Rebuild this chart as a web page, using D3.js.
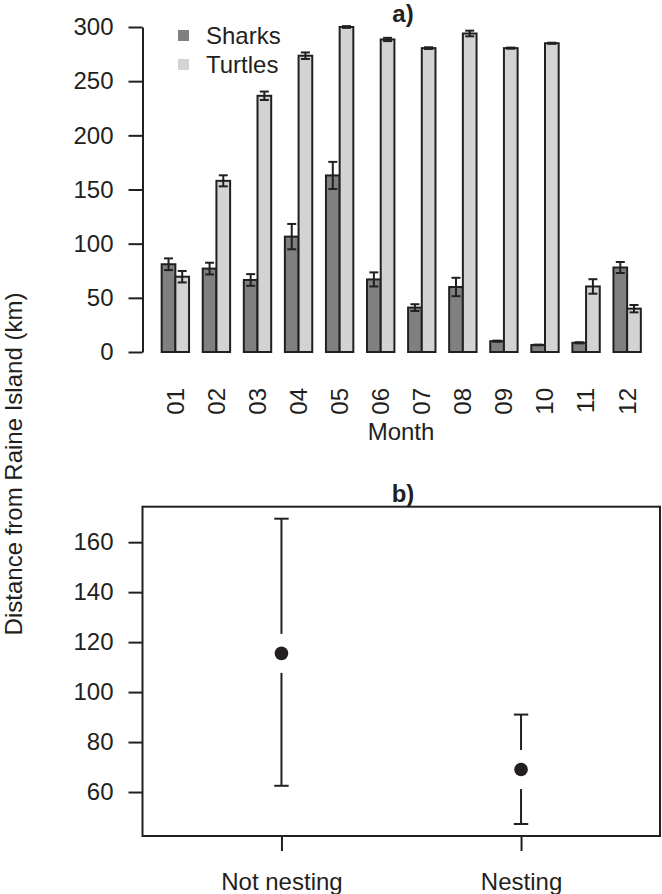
<!DOCTYPE html>
<html>
<head>
<meta charset="utf-8">
<script src="https://cdnjs.cloudflare.com/ajax/libs/d3/7.8.5/d3.min.js"></script>
<style>
body { margin: 0; background: #fff; }
text { font-family: "Liberation Sans", Arial, sans-serif; fill: #231f20; }
</style>
</head>
<body>
<script>
// data
var months = ["01","02","03","04","05","06","07","08","09","10","11","12"];
var sharks    = [81, 77, 66.5, 106.5, 163, 67, 41, 60, 10, 6.5, 8.5, 78];
var sharksSE  = [5.4, 5.4, 5.4, 11.7, 12.5, 6.5, 3.1, 8.5, 0.5, 0.3, 0.5, 5.1];
var turtles   = [69.5, 158, 236.5, 273.5, 300, 288.5, 280.5, 294, 280.5, 285, 60.5, 40];
var turtlesSE = [5.3, 5.1, 3.9, 3, 0.8, 1.5, 0.8, 2.6, 0.5, 0.5, 6.7, 3.4];
var yTicksA = [0, 50, 100, 150, 200, 250, 300];

var groups = ["Not nesting", "Nesting"];
var means  = [115.5, 69];
var upper  = [169.4, 91];
var lower  = [62.5, 47.2];
var yTicksB = [60, 80, 100, 120, 140, 160];

var ink = "#231f20", dark = "#808083", light = "#d1d3d4";

var W = 662, H = 894;
var svg = d3.select("body").append("svg").attr("width", W).attr("height", H);

// ---------- panel a ----------
var x = d3.scaleLinear().domain([-0.4, 37.4]).range([142.5, 660]);
var y = d3.scaleLinear().domain([0, 300]).range([352, 27]);

var bars = [];
months.forEach(function(m, i) {
  bars.push({pos: 1 + 3 * i, v: sharks[i], se: sharksSE[i], fill: dark});
  bars.push({pos: 2 + 3 * i, v: turtles[i], se: turtlesSE[i], fill: light});
});

svg.append("g").selectAll("rect").data(bars).join("rect")
  .attr("x", d => x(d.pos))
  .attr("width", d => x(d.pos + 1) - x(d.pos))
  .attr("y", d => y(d.v))
  .attr("height", d => y(0) - y(d.v))
  .attr("fill", d => d.fill)
  .attr("stroke", ink)
  .attr("stroke-width", 2);

var eb = svg.append("g").attr("stroke", ink).attr("stroke-width", 2).attr("fill", "none");
bars.forEach(function(d) {
  var cx = x(d.pos + 0.5);
  eb.append("line").attr("x1", cx).attr("x2", cx).attr("y1", y(d.v + d.se)).attr("y2", y(d.v - d.se));
  eb.append("line").attr("x1", cx - 4.5).attr("x2", cx + 4.5).attr("y1", y(d.v + d.se)).attr("y2", y(d.v + d.se));
  eb.append("line").attr("x1", cx - 4.5).attr("x2", cx + 4.5).attr("y1", y(d.v - d.se)).attr("y2", y(d.v - d.se));
});

var axA = svg.append("g").attr("transform", "translate(142.5,0)")
  .call(d3.axisLeft(y).tickValues(yTicksA).tickSize(14).tickSizeOuter(0).tickPadding(15));
axA.selectAll("path,line").attr("stroke", ink).attr("stroke-width", 2);
axA.selectAll("text").attr("font-size", 24).attr("font-family", null).attr("fill", ink);

svg.append("g").selectAll("text").data(months).join("text")
  .attr("transform", (d, i) => "translate(" + x(2 + 3 * i) + ",388) rotate(-90)")
  .attr("text-anchor", "end")
  .attr("dy", "0.35em")
  .attr("font-size", 24)
  .text(d => d);

svg.append("text").attr("x", 401).attr("y", 440).attr("text-anchor", "middle")
  .attr("font-size", 24).text("Month");
svg.append("text").attr("x", 403).attr("y", 22).attr("text-anchor", "middle")
  .attr("font-size", 24).attr("font-weight", "bold").text("a)");

// legend
var leg = [{name: "Sharks", fill: dark}, {name: "Turtles", fill: light}];
leg.forEach(function(l, i) {
  svg.append("rect").attr("x", 178).attr("y", 30 + 29 * i).attr("width", 11).attr("height", 11).attr("fill", l.fill);
  svg.append("text").attr("x", 206).attr("y", 44 + 28.5 * i).attr("font-size", 24).text(l.name);
});

// ---------- panel b ----------
var x2 = d3.scaleLinear().domain([0.42, 2.58]).range([142.5, 660]);
var y2 = d3.scaleLinear().domain([42.4, 174.2]).range([836, 506.7]);

svg.append("rect").attr("x", 142.5).attr("y", 506.7).attr("width", 660 - 142.5).attr("height", 836 - 506.7)
  .attr("fill", "none").attr("stroke", ink).attr("stroke-width", 2);

var axB = svg.append("g").attr("transform", "translate(142.5,0)")
  .call(d3.axisLeft(y2).tickValues(yTicksB).tickSize(14).tickPadding(15));
axB.select(".domain").remove();
axB.selectAll("line").attr("stroke", ink).attr("stroke-width", 2);
axB.selectAll("text").attr("font-size", 24).attr("font-family", null).attr("fill", ink);

var axB2 = svg.append("g").attr("transform", "translate(0,836)")
  .call(d3.axisBottom(x2).tickValues([1, 2]).tickFormat(d => groups[d - 1]).tickSize(15).tickPadding(22));
axB2.select(".domain").remove();
axB2.selectAll("line").attr("stroke", ink).attr("stroke-width", 2);
axB2.selectAll("text").attr("font-size", 24).attr("font-family", null).attr("fill", ink);

var gap = 19.5;
var ci = svg.append("g").attr("stroke", ink).attr("stroke-width", 2);
groups.forEach(function(g, i) {
  var cx = x2(i + 1), cy = y2(means[i]);
  ci.append("line").attr("x1", cx).attr("x2", cx).attr("y1", y2(upper[i])).attr("y2", cy - gap);
  ci.append("line").attr("x1", cx).attr("x2", cx).attr("y1", cy + gap).attr("y2", y2(lower[i]));
  ci.append("line").attr("x1", cx - 7.2).attr("x2", cx + 7.2).attr("y1", y2(upper[i])).attr("y2", y2(upper[i]));
  ci.append("line").attr("x1", cx - 7.2).attr("x2", cx + 7.2).attr("y1", y2(lower[i])).attr("y2", y2(lower[i]));
  svg.append("circle").attr("cx", cx).attr("cy", cy).attr("r", 6.8).attr("fill", ink);
});

svg.append("text").attr("x", 403).attr("y", 502).attr("text-anchor", "middle")
  .attr("font-size", 24).attr("font-weight", "bold").text("b)");

// shared y label
svg.append("text").attr("transform", "translate(22,464) rotate(-90)")
  .attr("text-anchor", "middle").attr("font-size", 24)
  .text("Distance from Raine Island (km)");
</script>
</body>
</html>
